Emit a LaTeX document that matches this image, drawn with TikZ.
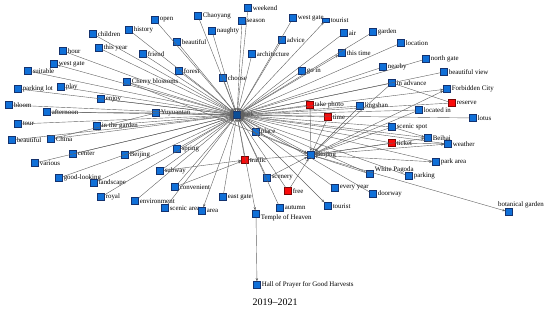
\documentclass[tikz,border=0pt]{standalone}
\usepackage{fontspec}
\setmainfont{Liberation Serif}
\usetikzlibrary{arrows.meta}
\definecolor{nb}{RGB}{16,112,216}
\definecolor{nbd}{RGB}{20,50,110}
\definecolor{nr}{RGB}{250,10,10}
\tikzset{
  sq/.style={rectangle,minimum size=7pt,inner sep=0pt,fill=nb,draw=nbd,line width=0.4pt},
  rsq/.style={sq,fill=nr,draw=nr!50!black},
  lbl/.style={font=\fontsize{6.9}{7.5}\selectfont,inner sep=0.6pt,label distance=0.3pt},
  lb/.style={label={[lbl]right:#1}},
  edge/.style={draw=black!62,line width=0.4pt},
  ar/.style={edge,-{Stealth[length=3.2pt,width=2.4pt]}},
}
\begin{document}
\begin{tikzpicture}[x=1pt,y=-1pt]
\useasboundingbox (0,0) rectangle (550,313);
% nodes
\node[sq,lb=weekend] (weekend) at (248,8) {};
\node[sq,lb=Chaoyang] (chaoyang) at (198,16) {};
\node[sq,lb=season] (season) at (242,21) {};
\node[sq,lb=open] (open) at (155,20) {};
\node[sq,lb=naughty] (naughty) at (212,31) {};
\node[sq,lb=west gate] (westgateT) at (293,18) {};
\node[sq,minimum height=4pt,lb=tourist] (touristT) at (326,20) {};
\node[sq,lb=history] (history) at (129,30) {};
\node[sq,lb=children] (children) at (93,34) {};
\node[sq,lb=beautiful] (beautifulT) at (177,42) {};
\node[sq,lb=advice] (advice) at (282,40) {};
\node[sq,lb=air] (air) at (344,33) {};
\node[sq,lb=garden] (garden) at (373,32) {};
\node[sq,lb=location] (location) at (401,43) {};
\node[sq,lb=this year] (thisyear) at (99,48) {};
\node[sq,lb=friend] (friend) at (143,54) {};
\node[sq,lb=forest] (forest) at (179,71) {};
\node[sq,lb=architecture] (architecture) at (252,54) {};
\node[sq,lb=this time] (thistime) at (342,53) {};
\node[sq,lb=hour] (hour) at (63,51) {};
\node[sq,lb=north gate] (northgate) at (426,59) {};
\node[sq,lb=west gate] (westgateL) at (54,64) {};
\node[sq,lb=suitable] (suitable) at (28,71) {};
\node[sq,lb=choose] (choose) at (223,78) {};
\node[sq,lb=go in] (goin) at (302,71) {};
\node[sq,lb=nearby] (nearby) at (383,67) {};
\node[sq,lb=beautiful view] (bview) at (444,72) {};
\node[sq,lb=Cherry blossoms] (cherry) at (127,82) {};
\node[sq,lb=in advance] (inadvance) at (392,83) {};
\node[sq,lb=Forbidden City] (forbidden) at (447,89) {};
\node[sq,lb=parking lot] (parkinglot) at (18,89) {};
\node[sq,lb=play] (play) at (61,87) {};
\node[sq,lb=enjoy] (enjoy) at (101,99) {};
\node[sq,lb=bloom] (bloom) at (9,105) {};
\node[sq,lb=afternoon] (afternoon) at (47,112) {};
\node[sq,lb=Yuyuantan] (yuyuantan) at (156,113) {};
\node[rsq,lb=take photo] (takephoto) at (310,105) {};
\node[sq,lb=lingshan] (lingshan) at (360,106) {};
\node[rsq,lb=reserve] (reserve) at (452,103) {};
\node[sq,lb=located in] (locatedin) at (419,110) {};
\node[sq,lb=lotus] (lotus) at (473,118) {};
\node[sq,lb=tour] (tour) at (18,124) {};
\node[sq,lb=in the garden] (inthegarden) at (97,126) {};
\node[rsq,lb=time] (time) at (328,117) {};
\node[sq,lb=place] (place) at (256,132) {};
\node[sq,lb=scenic spot] (scenicspot) at (392,127) {};
\node[sq,lb=beautiful] (beautifulL) at (12,140) {};
\node[sq,lb=China] (china) at (51,139) {};
\node[sq,lb=Beihai] (beihai) at (428,138) {};
\node[sq,lb=center] (center) at (73,154) {};
\node[rsq,lb=ticket] (ticket) at (392,143) {};
\node[sq,lb=weather] (weather) at (448,144) {};
\node[sq,lb=Beijing] (beijingL) at (125,155) {};
\node[sq,lb=spring] (spring) at (177,149) {};
\node[sq,lb=various] (various) at (35,163) {};
\node[rsq,lb=traffic] (traffic) at (245,160) {};
\node[sq,lb=park area] (parkarea) at (436,162) {};
\node[sq,lb=good-looking] (goodlooking) at (59,178) {};
\node[sq,lb=subway] (subway) at (160,171) {};
\node[sq,lb=landscape] (landscape) at (94,183) {};
\node[sq,lb=convenient] (convenient) at (175,187) {};
\node[sq,label={[lbl,yshift=4pt]right:White Pagoda}] (whitepagoda) at (370,174) {};
\node[sq,lb=scenery] (scenery) at (267,178) {};
\node[sq,lb=parking] (parking) at (409,176) {};
\node[sq,lb=royal] (royal) at (101,197) {};
\node[sq,lb=every year] (everyyear) at (335,188) {};
\node[sq,lb=doorway] (doorway) at (373,194) {};
\node[rsq,lb=free] (free) at (288,191) {};
\node[sq,lb=environment] (environment) at (135,201) {};
\node[sq,lb=east gate] (eastgate) at (223,197) {};
\node[sq,lb=scenic area] (scenicarea) at (165,208) {};
\node[sq,lb=area] (area) at (202,211) {};
\node[sq,lb=autumn] (autumn) at (280,208) {};
\node[sq,lb=tourist] (touristB) at (328,206) {};
\node[sq,label={[lbl,yshift=-3.5pt]right:Temple of Heaven}] (temple) at (256,214) {};
\node[sq,lb=Hall of Prayer for Good Harvests] (hall) at (257,285) {};
\node[sq,label={[lbl,xshift=12pt,label distance=0pt]above:botanical garden}] (botanical) at (509,212) {};
\node[sq,lb=Beijing] (beijingR) at (311,155) {};
\node[sq,fill=nb!70!black,lb=park] (park) at (237,115) {};
\node[font=\fontsize{10}{12}\selectfont] (cap) at (275,302) {2019--2021};
% edges into park
\foreach \n in {weekend,chaoyang,season,open,naughty,westgateT,history,children,beautifulT,advice,air,garden,location,thisyear,friend,forest,architecture,hour,northgate,suitable,choose,goin,nearby,bview,cherry,inadvance,parkinglot,play,enjoy,bloom,afternoon,yuyuantan,takephoto,lingshan,reserve,locatedin,lotus,tour,inthegarden,time,place,scenicspot,beautifulL,china,beihai,center,ticket,weather,beijingL,spring,various,traffic,parkarea,goodlooking,subway,landscape,convenient,whitepagoda,scenery,parking,royal,everyyear,doorway,free,environment,eastgate,scenicarea,autumn}
  \draw[ar] (\n) -- (park);
% edges out of park
\foreach \n in {touristT,thistime,westgateL,forbidden,area,touristB,temple,beijingR}
  \draw[ar] (park) -- (\n);
% edges into Beijing
\foreach \n in {takephoto,time,lingshan,scenicspot,ticket,locatedin,free,scenery,whitepagoda,inadvance,cherry,place}
  \draw[ar] (\n) -- (beijingR);
\foreach \n in {beihai,weather,forbidden,botanical,parkarea}
  \draw[ar] (beijingR) -- (\n);
% other edges
\draw[ar] (temple) -- (hall);
\draw[ar] (subway) -- (traffic);
\draw[ar] (convenient) -- (traffic);
\draw[edge] (afternoon) -- (yuyuantan);
\draw[edge] (china) -- (yuyuantan);
\draw[edge] (inadvance) -- (reserve);
\draw[ar] (scenicspot) -- (beihai);
\draw[ar] (ticket) -- (weather);
\draw[ar] (beijingR) -- (traffic);
\end{tikzpicture}
\end{document}
